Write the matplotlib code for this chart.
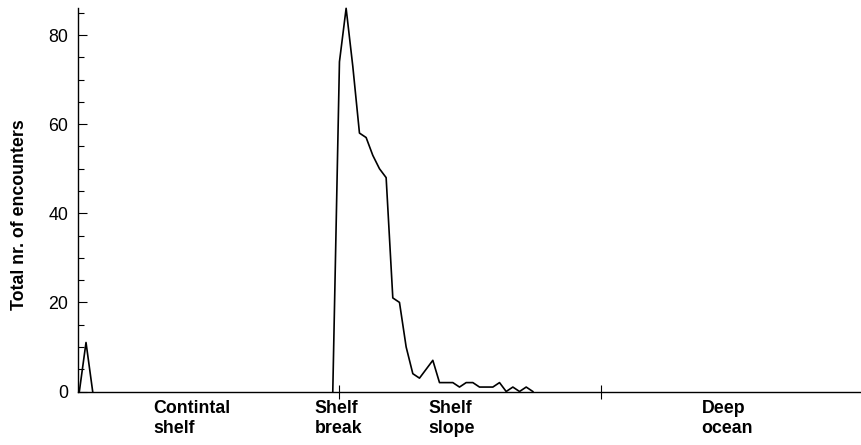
import numpy as np
import matplotlib.pyplot as plt

plt.rcParams['font.family'] = ['Liberation Sans', 'DejaVu Sans']

# encounters per distance step across the margin (NaN = nothing drawn)
counts_shelf = [0, 11, 0]
counts_break = [0, 74, 86, 73, 58, 57, 53, 50, 48, 21, 20, 10, 4, 3, 5, 7,
                2, 2, 2, 1, 2, 2, 1, 1, 1, 2, 0, 1, 0, 1, 0]
start_break = 38

zone_names = ['Contintal\nshelf', 'Shelf\nbreak', 'Shelf\nslope', 'Deep\nocean']
zone_pos = [11.05, 35.3, 52.3, 93.3]
zone_ticks = [38.9, 78.2]

n = start_break + len(counts_break)
y = np.full(n, np.nan)
y[:len(counts_shelf)] = counts_shelf
y[start_break:] = counts_break
x = np.arange(n)

fig = plt.figure(figsize=(8.62, 4.45), dpi=100)
ax = fig.add_axes([0.0905, 0.1202, 0.9095, 0.8611])

ax.plot(x, y, color='black', lw=1.2, clip_on=False)

ax.set_xlim(-0.2, 117.35)
ax.set_ylim(0, 86)

for s in ['top', 'right']:
    ax.spines[s].set_visible(False)
for s in ['left', 'bottom']:
    ax.spines[s].set_linewidth(1.0)

ax.set_yticks([0, 20, 40, 60, 80])
ax.set_yticks(np.arange(5, 86, 5), minor=True)
ax.tick_params(axis='y', which='major', direction='in', length=6.7, width=0.8,
               pad=7, labelsize=12.8)
ax.tick_params(axis='y', which='minor', direction='in', length=4.0, width=0.8)

ax.set_xticks(zone_ticks)
ax.set_xticklabels([])
ax.tick_params(axis='x', direction='inout', length=9.4, width=0.8)

trans = ax.get_xaxis_transform()
for name, xp in zip(zone_names, zone_pos):
    ax.text(xp, -0.022, name, transform=trans, ha='left', va='top',
            fontsize=12.8, fontweight='bold', linespacing=1.2)

fig.text(20 / 862, 1 - 215 / 445, 'Total nr. of encounters', rotation=90,
         ha='center', va='center', fontsize=12.8, fontweight='bold')

fig.savefig('out.png', dpi=100)
